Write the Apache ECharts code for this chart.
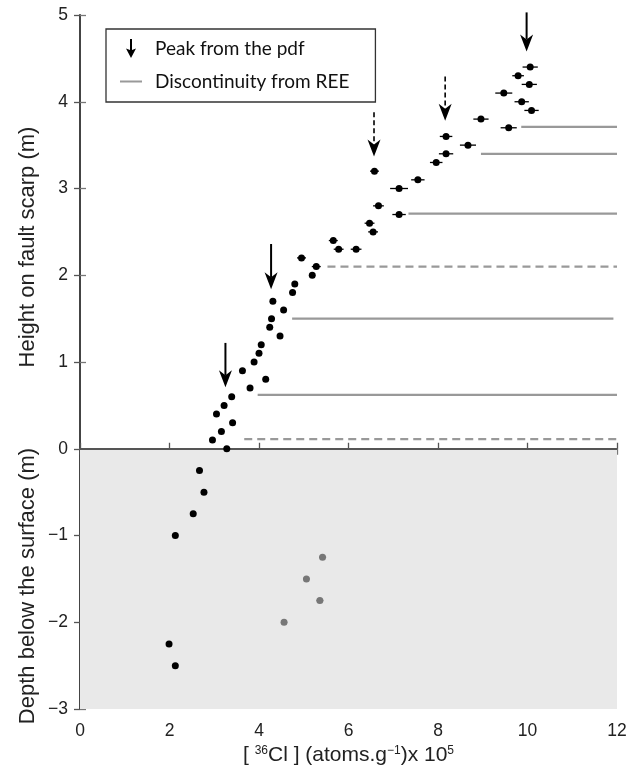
<!DOCTYPE html>
<html>
<head>
<meta charset="utf-8">
<script src="https://cdn.jsdelivr.net/npm/echarts@6/dist/echarts.min.js"></script>
<style>
html,body{margin:0;padding:0;background:#fff;}
#chart{width:631px;height:775px;}
</style>
</head>
<body>
<div id="chart"></div>
<script>
// ---- Data ----
// Samples on the fault scarp (height above ground, m) : [36Cl] x1e5
var scarpY = [0,0.1,0.2,0.3,0.4,0.5,0.6,0.7,0.8,0.9,1.0,1.1,1.2,1.3,1.4,1.5,1.6,1.7,1.8,1.9,2.0,2.1,2.2,2.3,2.3,2.4,2.5,2.6,2.7,2.8,3.0,3.1,3.2,3.3,3.4,3.5,3.6,3.7,3.8,3.9,4.0,4.1,4.2,4.3,4.4];
var scarpX = [3.28,2.96,3.16,3.41,3.05,3.22,3.39,3.80,4.15,3.63,3.89,4.00,4.05,4.47,4.24,4.28,4.55,4.31,4.75,4.80,5.19,5.28,4.95,5.78,6.17,5.66,6.55,6.47,7.13,6.67,7.13,7.55,6.58,7.96,8.18,8.67,8.18,9.58,8.96,10.09,9.87,9.47,10.04,9.79,10.06];
var scarpErr = [0,0,0,0,0,0,0,0,0,0,0,0,0,0,0,0,0,0,0,0,0.05,0.10,0.10,0.11,0.12,0.10,0.11,0.11,0.15,0.12,0.20,0.15,0.10,0.14,0.16,0.18,0.14,0.18,0.17,0.16,0.16,0.19,0.17,0.13,0.17];

// Buried samples (depth below surface, m)
var depthY = [-0.25,-0.5,-0.75,-1.0,-2.25,-2.5];
var depthX = [2.67,2.77,2.53,2.13,1.99,2.13];
// Buried samples, grey
var depthGrayY = [-1.25,-1.5,-1.75,-2.0];
var depthGrayX = [5.42,5.06,5.36,4.56];
var depthGrayErr = [0.08,0.07,0.08,0.07];

// Discontinuities from REE: height, start, end, dashed(1)
var discY = [3.71,3.40,2.71,2.10,1.50,0.62,0.11];
var discStart = [9.86,8.96,7.34,5.53,4.74,3.97,3.67];
var discEnd = [12,12,12,12,11.92,12,12];
var discDashed = [0,0,0,1,0,0,1];

// Peaks from the pdf (arrows): x, top of arrow, tip, dashed(1)
var arrowX = [3.25,4.27,6.57,8.16,9.98];
var arrowTop = [1.22,2.36,3.88,4.29,5.03];
var arrowTip = [0.71,1.84,3.37,3.78,4.58];
var arrowDashed = [0,0,1,1,0];

// Axis ticks
var xTicks = {min:0, max:12, interval:2};
var yTicks = {min:-3, max:5, interval:1};

// ---- Build ----
var chart = echarts.init(document.getElementById('chart'), null, {renderer:'canvas'});
var FONT = '"Liberation Sans", Arial, Helvetica, sans-serif';

function axisStyle(color, width){ return {show:true, lineStyle:{color:color, width:width}}; }

var scarpData = scarpX.map(function(x,i){ return [x, scarpY[i], scarpErr[i]]; });
var depthData = depthX.map(function(x,i){ return [x, depthY[i]]; });
var grayData = depthGrayX.map(function(x,i){ return [x, depthGrayY[i], depthGrayErr[i]]; });
var discData = discY.map(function(y,i){ return [discStart[i], y, discEnd[i], discDashed[i]]; });
var arrowData = arrowX.map(function(x,i){ return [x, arrowTop[i], arrowTip[i], arrowDashed[i]]; });

function errRender(color){
  return function(params, api){
    var x = api.value(0), y = api.value(1), e = api.value(2);
    if (!e) return null;
    var p1 = api.coord([x-e, y]), p2 = api.coord([x+e, y]);
    return {type:'line', shape:{x1:p1[0], y1:p1[1], x2:p2[0], y2:p2[1]},
      style:{stroke:color, lineWidth:1.3}};
  };
}

var option = {
  backgroundColor:'#fff',
  animation:false,
  grid:{left:80, right:14, top:15, bottom:66},
  legend:{
    left:106, top:29, orient:'vertical',
    padding:[10,26,11,14], itemGap:14, itemWidth:22, itemHeight:19,
    backgroundColor:'#fff', borderColor:'#333', borderWidth:1.3,
    selectedMode:false,
    textStyle:{fontFamily:'Lato, "Open Sans", sans-serif', fontSize:19, color:'#111', padding:[0,0,0,8]},
    data:[
      {name:'Peak from the pdf', icon:'path://M3,0 L5,0 L5,11 L9,9.5 L4,19 L-1,9.5 L3,11 Z'},
      {name:'Discontinuity from REE', icon:'path://M0,0 L22,0 L22,2 L0,2 Z'}
    ]
  },
  xAxis:[
    {type:'value', position:'bottom', min:xTicks.min, max:xTicks.max, interval:xTicks.interval,
     axisLine:axisStyle('#444',2), splitLine:{show:false},
     axisTick:{inside:true, length:6, lineStyle:{color:'#555', width:1.3}},
     axisLabel:{fontFamily:FONT, fontSize:17.5, color:'#222', margin:13},
     name:'[ {sup|36}Cl ] (atoms.g{sup|\u22121})x 10{sup|5}', nameLocation:'middle', nameGap:32,
     nameTextStyle:{fontFamily:FONT, fontSize:21, color:'#222', verticalAlign:'top',
       rich:{sup:{fontFamily:FONT, fontSize:12, color:'#222', verticalAlign:'top', padding:[0,0,9,0]}}}},
    {type:'value', position:'top', min:xTicks.min, max:xTicks.max, interval:xTicks.interval,
     axisLine:axisStyle('#777',1.5), splitLine:{show:false},
     axisTick:{inside:true, length:6, lineStyle:{color:'#777', width:1.3}},
     axisLabel:{show:false}}
  ],
  yAxis:[
    {type:'value', position:'left', min:yTicks.min, max:yTicks.max, interval:yTicks.interval,
     axisLine:axisStyle('#777',1.5), splitLine:{show:false},
     axisTick:{inside:true, length:6, lineStyle:{color:'#777', width:1.3}},
     axisLabel:{fontFamily:FONT, fontSize:17.5, color:'#222', margin:12,
       formatter:function(v){ return v<0 ? '\u2212'+Math.abs(v) : String(v); }}},
    {type:'value', position:'right', min:yTicks.min, max:yTicks.max, interval:yTicks.interval,
     axisLine:axisStyle('#444',2), splitLine:{show:false},
     axisTick:{inside:true, length:6, lineStyle:{color:'#555', width:1.3}},
     axisLabel:{show:false}}
  ],
  graphic:[
    {type:'text', x:28, y:247, rotation:Math.PI/2, z:10,
     style:{text:'Height on fault scarp (m)', font:'22px '+FONT, fill:'#222', textAlign:'center', textVerticalAlign:'middle'}},
    {type:'text', x:28, y:586, rotation:Math.PI/2, z:10,
     style:{text:'Depth below the surface (m)', font:'22px '+FONT, fill:'#222', textAlign:'center', textVerticalAlign:'middle'}}
  ],
  series:[
    {type:'scatter', name:'bg', data:[], silent:true,
     markArea:{silent:true, itemStyle:{color:'#e9e9e9', opacity:1},
       data:[[{coord:[xTicks.min, yTicks.min]},{coord:[xTicks.max, 0]}]]},
     markLine:{silent:true, symbol:'none', label:{show:false},
       lineStyle:{color:'#555', width:2, type:'solid', opacity:1}, data:[{yAxis:0}]}},
    {type:'custom', name:'Discontinuity from REE', itemStyle:{color:'#999'}, z:3,
     data:discData, encode:{x:0, y:1},
     renderItem:function(params, api){
       var p1 = api.coord([api.value(0), api.value(1)]);
       var p2 = api.coord([api.value(2), api.value(1)]);
       return {type:'line', shape:{x1:p1[0], y1:p1[1], x2:p2[0], y2:p2[1]},
         style:{stroke:'#999', lineWidth:2.3, lineDash: api.value(3) ? [8,5] : null}};
     }},
    {type:'custom', name:'errScarp', data:scarpData, encode:{x:0,y:1}, z:4, renderItem:errRender('#000')},
    {type:'custom', name:'errGray', data:grayData, encode:{x:0,y:1}, z:4, renderItem:errRender('#888')},
    {type:'scatter', name:'scarp', data:scarpData.map(function(d){return [d[0],d[1]];}),
     symbol:'circle', symbolSize:7, itemStyle:{color:'#000', opacity:1}, z:5},
    {type:'scatter', name:'depth', data:depthData,
     symbol:'circle', symbolSize:7, itemStyle:{color:'#000', opacity:1}, z:5},
    {type:'scatter', name:'depthGray', data:grayData.map(function(d){return [d[0],d[1]];}),
     symbol:'circle', symbolSize:7, itemStyle:{color:'#777', opacity:1}, z:5},
    {type:'custom', name:'Peak from the pdf', itemStyle:{color:'#000'}, z:6, clip:false,
     data:arrowData, encode:{x:0, y:1},
     renderItem:function(params, api){
       var top = api.coord([api.value(0), api.value(1)]);
       var tip = api.coord([api.value(0), api.value(2)]);
       var dashed = api.value(3);
       var hl = 17, hw = 6.5, notch = 5;
       var x = tip[0];
       return {type:'group', children:[
         {type:'line', shape:{x1:x, y1:top[1], x2:x, y2:tip[1]-hl+notch},
          style:{stroke:'#000', lineWidth: dashed ? 1.6 : 2, lineDash: dashed ? [5,3] : null}},
         {type:'polygon', shape:{points:[[x, tip[1]], [x-hw, tip[1]-hl], [x, tip[1]-hl+notch], [x+hw, tip[1]-hl]]},
          style:{fill:'#000'}}
       ]};
     }}
  ]
};
chart.setOption(option);
</script>
</body>
</html>
